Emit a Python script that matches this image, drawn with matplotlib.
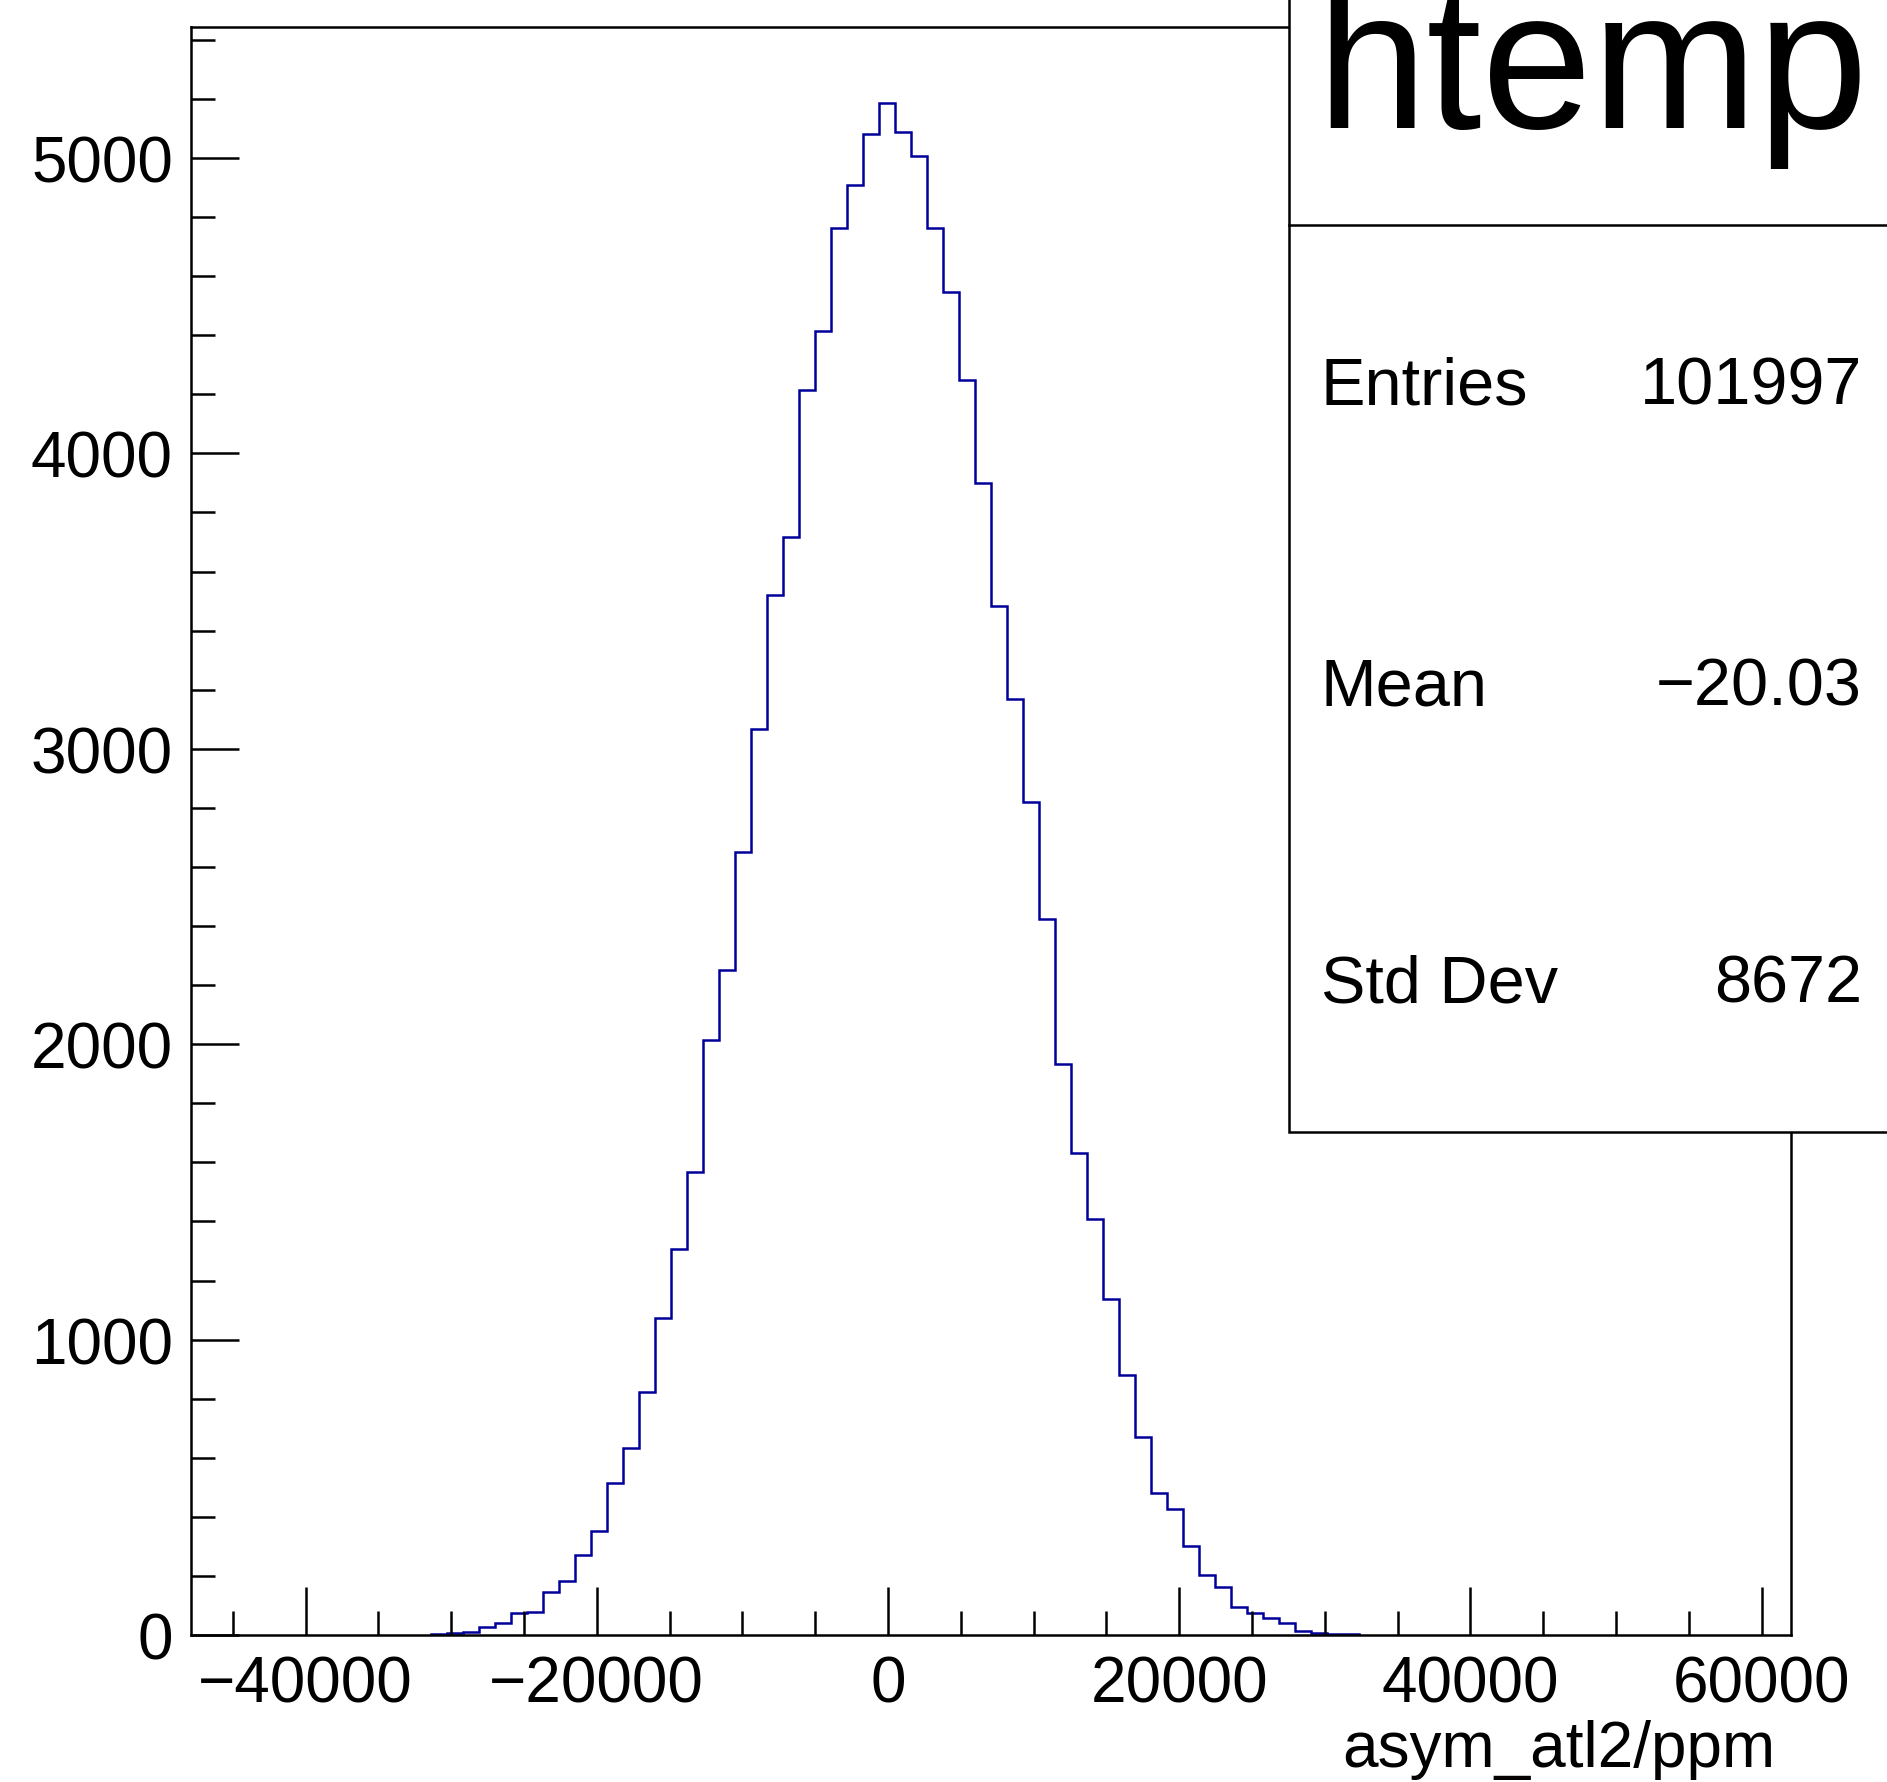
import numpy as np
import matplotlib
matplotlib.use('Agg')
import matplotlib.pyplot as plt
from matplotlib.patches import Rectangle
from matplotlib.lines import Line2D
from matplotlib.ticker import MultipleLocator

plt.rcParams['font.family'] = ['Liberation Sans', 'DejaVu Sans']

# histogram binning: 100 bins over the x range
x_min = -47870
x_max = 62020
n_bins = 100
first_bin = 15  # first bin with entries

# bin contents, bins 15..72
counts = [5, 8, 11,
          28, 40, 73, 79, 146, 184, 272, 353, 513, 632,
          822, 1074, 1306, 1566, 2014, 2250, 2652, 3068, 3519, 3718,
          4215, 4414, 4764, 4907, 5082, 5185, 5087, 5005, 4763, 4547,
          4247, 3898, 3483, 3169, 2819, 2425, 1932, 1631, 1408, 1139,
          880, 670, 482, 428, 302, 202, 162, 94, 76, 57,
          40, 12, 8, 5, 2]

# stats box
title = 'htemp'
stat_names = ['Entries', 'Mean', 'Std Dev']
stat_values = ['101997', '\u221220.03', '8672']
x_label = 'asym_atl2/ppm'

W, H = 1887, 1783
fig = plt.figure(figsize=(W / 100, H / 100), dpi=100)
fig.patch.set_facecolor('white')

def fx(px):
    return px / W

def fy(py):
    return 1 - py / H

ax = fig.add_axes([fx(191), fy(1636), fx(1791) - fx(191), fy(27.7) - fy(1636)])

bin_w = (x_max - x_min) / n_bins
edges = x_min + bin_w * np.arange(first_bin, first_bin + len(counts) + 1)
ax.stairs(counts, edges, baseline=0, color='#000099', linewidth=1.8)

ax.set_xlim(x_min, x_max)
ax.set_ylim(0, 1.05 * max(counts))

ax.xaxis.set_major_locator(MultipleLocator(20000))
ax.xaxis.set_minor_locator(MultipleLocator(5000))
ax.yaxis.set_major_locator(MultipleLocator(1000))
ax.yaxis.set_minor_locator(MultipleLocator(200))
ax.tick_params(which='both', direction='in', top=False, right=False, width=1.8, labelsize=46)
ax.tick_params(which='major', length=34.6)
ax.tick_params(which='minor', length=17.3)
ax.tick_params(axis='x', pad=14)
ax.tick_params(axis='y', pad=13)
for s in ax.spines.values():
    s.set_linewidth(1.8)

fig.text(fx(1775), fy(1767), x_label, ha='right', va='baseline', fontsize=46)

# stats box, hanging off the top right corner
box_left, box_bottom, sep_y = 1289, 1133, 226
fig.add_artist(Rectangle((fx(box_left), fy(box_bottom)), fx(W + 20) - fx(box_left),
                         fy(-20) - fy(box_bottom), transform=fig.transFigure,
                         facecolor='white', edgecolor='black', linewidth=1.8, zorder=5))
fig.add_artist(Line2D([fx(box_left), fx(W + 20)], [fy(sep_y), fy(sep_y)],
                      transform=fig.transFigure, color='black', linewidth=1.8, zorder=6))

fig.text(fx(1316), fy(128), title, ha='left', va='baseline', fontsize=143, zorder=7)

baselines = [405, 705, 1003]
for name, val, by in zip(stat_names, stat_values, baselines):
    fig.text(fx(1321), fy(by), name, ha='left', va='baseline', fontsize=48, zorder=7)
    fig.text(fx(1862), fy(by), val, ha='right', va='baseline', fontsize=48, zorder=7)

fig.savefig('out.png', dpi=100)
